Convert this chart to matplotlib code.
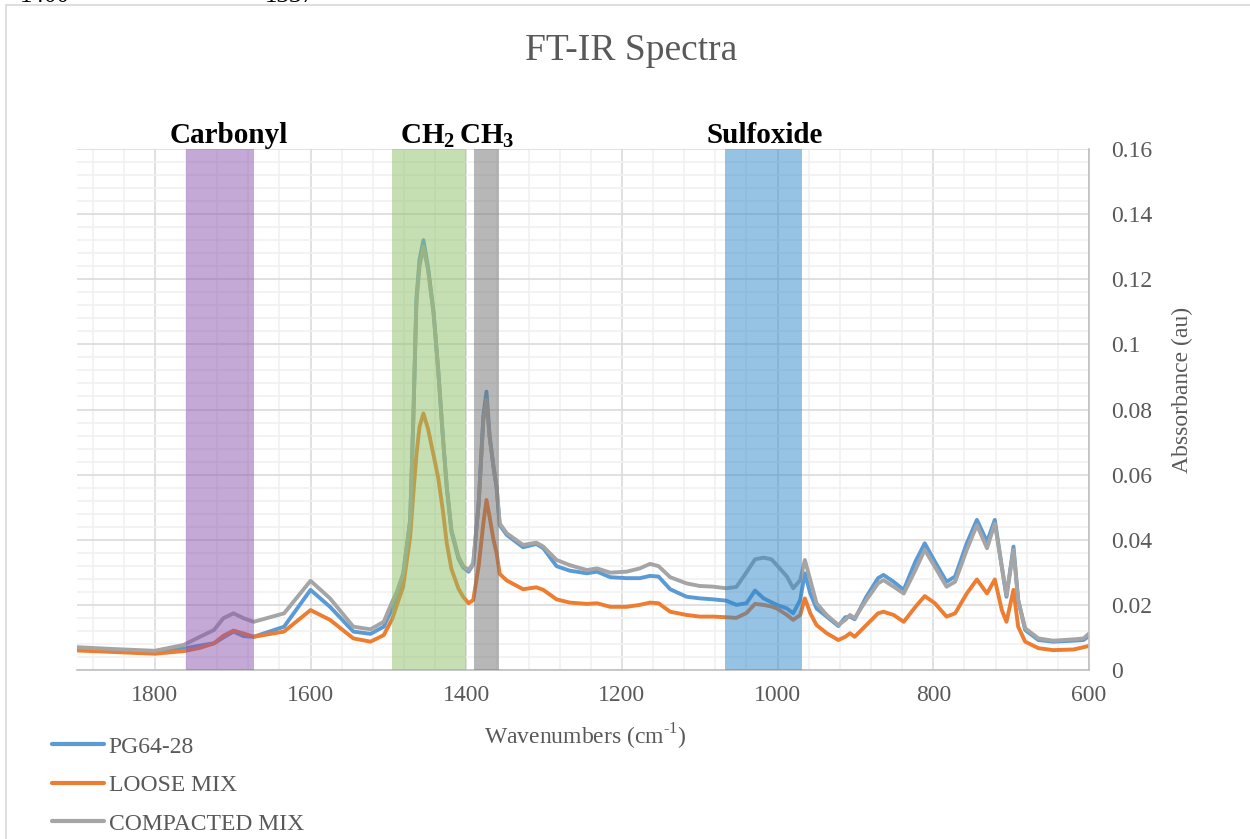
import matplotlib.pyplot as plt
from matplotlib.patches import Rectangle
from matplotlib.ticker import MultipleLocator
import matplotlib.transforms as mtransforms

plt.rcParams['font.family'] = ['Liberation Serif', 'DejaVu Serif']
plt.rcParams['mathtext.fontset'] = 'custom'
plt.rcParams['mathtext.rm'] = 'Liberation Serif'
plt.rcParams['mathtext.bf'] = 'Liberation Serif:bold'

# wavenumbers (cm-1), high to low
wavenumbers = [1900, 1850, 1800, 1763, 1742, 1724, 1712, 1699, 1686, 1673, 1634, 1600, 1575, 1545, 1523, 1506,
               1495, 1489, 1481, 1472, 1468, 1464, 1460, 1455, 1449, 1442, 1436, 1430, 1425, 1419, 1410, 1404,
               1397, 1391, 1384, 1378, 1374, 1370, 1365, 1361, 1357, 1348,
               1327, 1310, 1301, 1284, 1267, 1245, 1232, 1215, 1194, 1177,
               1164, 1153, 1138, 1117, 1100, 1083, 1066, 1053, 1040, 1029,
               1018, 1008, 1001, 988, 980, 971, 965, 958, 950, 937,
               922, 913, 907, 901, 886, 871, 864, 851, 838, 823,
               811, 798, 783, 772, 757, 744, 731, 721, 712, 706,
               697, 691, 682, 665, 646, 620, 607, 600]

pg64_28 = [0.0066, 0.0060, 0.0057, 0.0066, 0.0075, 0.0082, 0.0100, 0.0118, 0.0104, 0.0102, 0.0133, 0.0246, 0.0194, 0.0118, 0.0111, 0.0133,
           0.0189, 0.0225, 0.0290, 0.0461, 0.0768, 0.1140, 0.1260, 0.1320, 0.1235, 0.1100, 0.0921, 0.0716, 0.0560, 0.0425, 0.0342, 0.0315,
           0.0302, 0.0325, 0.0512, 0.0780, 0.0855, 0.0720, 0.0624, 0.0560, 0.0445, 0.0415,
           0.0377, 0.0387, 0.0374, 0.0319, 0.0305, 0.0297, 0.0302, 0.0285, 0.0282, 0.0282,
           0.0289, 0.0287, 0.0248, 0.0225, 0.0220, 0.0217, 0.0213, 0.0200, 0.0205, 0.0244,
           0.0220, 0.0208, 0.0200, 0.0189, 0.0174, 0.0215, 0.0297, 0.0235, 0.0189, 0.0164,
           0.0135, 0.0162, 0.0164, 0.0156, 0.0225, 0.0282, 0.0292, 0.0271, 0.0246, 0.0333,
           0.0389, 0.0333, 0.0271, 0.0287, 0.0389, 0.0461, 0.0394, 0.0461, 0.0317, 0.0225,
           0.0379, 0.0215, 0.0123, 0.0092, 0.0087, 0.0090, 0.0092, 0.0105]

loose_mix = [0.0060, 0.0055, 0.0050, 0.0058, 0.0068, 0.0082, 0.0105, 0.0121, 0.0112, 0.0102, 0.0118, 0.0184, 0.0154, 0.0097, 0.0087, 0.0107,
             0.0157, 0.0200, 0.0256, 0.0409, 0.0540, 0.0660, 0.0747, 0.0788, 0.0740, 0.0660, 0.0590, 0.0490, 0.0389, 0.0310, 0.0250, 0.0225,
             0.0205, 0.0215, 0.0320, 0.0450, 0.0522, 0.0470, 0.0400, 0.0360, 0.0295, 0.0275,
             0.0248, 0.0254, 0.0246, 0.0217, 0.0207, 0.0203, 0.0205, 0.0194, 0.0194, 0.0200,
             0.0207, 0.0205, 0.0179, 0.0169, 0.0164, 0.0164, 0.0162, 0.0160, 0.0175, 0.0203,
             0.0200, 0.0195, 0.0189, 0.0169, 0.0154, 0.0169, 0.0220, 0.0174, 0.0138, 0.0113,
             0.0092, 0.0102, 0.0113, 0.0102, 0.0138, 0.0174, 0.0179, 0.0169, 0.0148, 0.0194,
             0.0227, 0.0205, 0.0164, 0.0174, 0.0235, 0.0278, 0.0235, 0.0278, 0.0184, 0.0148,
             0.0246, 0.0133, 0.0087, 0.0067, 0.0061, 0.0063, 0.0070, 0.0074]

compacted_mix = [0.0070, 0.0064, 0.0059, 0.0077, 0.0102, 0.0123, 0.0159, 0.0174, 0.0159, 0.0148, 0.0174, 0.0274, 0.0220, 0.0133, 0.0125, 0.0148,
                 0.0210, 0.0240, 0.0297, 0.0461, 0.0768, 0.1127, 0.1240, 0.1300, 0.1228, 0.1096, 0.0921, 0.0716, 0.0563, 0.0430, 0.0348, 0.0320,
                 0.0307, 0.0328, 0.0512, 0.0768, 0.0830, 0.0716, 0.0624, 0.0563, 0.0450, 0.0420,
                 0.0384, 0.0391, 0.0379, 0.0338, 0.0322, 0.0307, 0.0312, 0.0299, 0.0302, 0.0312,
                 0.0326, 0.0319, 0.0285, 0.0266, 0.0258, 0.0256, 0.0251, 0.0255, 0.0300, 0.0340,
                 0.0345, 0.0340, 0.0322, 0.0287, 0.0251, 0.0276, 0.0338, 0.0276, 0.0205, 0.0169,
                 0.0138, 0.0154, 0.0169, 0.0159, 0.0215, 0.0266, 0.0276, 0.0256, 0.0235, 0.0307,
                 0.0369, 0.0317, 0.0256, 0.0271, 0.0369, 0.0445, 0.0374, 0.0450, 0.0317, 0.0230,
                 0.0369, 0.0215, 0.0128, 0.0097, 0.0090, 0.0094, 0.0097, 0.0112]

series_names = ['PG64-28', 'LOOSE MIX', 'COMPACTED MIX']
series_colors = ['#5b9bd5', '#ed7d31', '#a5a5a5']

# functional group regions (cm-1) and their labels
band_ranges = [(1760, 1673), (1495, 1400), (1390, 1358), (1068, 969)]
band_colors = ['#8a52ad', '#8dc169', '#717171', '#2f87cb']
group_labels = ['Carbonyl', r'CH$_\mathbf{2}$', r'CH$_\mathbf{3}$', 'Sulfoxide']
group_label_x = [1705, 1450, 1374, 1017]

W, H = 1250, 839
fig = plt.figure(figsize=(12.5, 8.39), dpi=100)
ax = fig.add_axes([77 / W, 1 - 670 / H, (1089 - 77) / W, (670 - 149) / H])

for y, name, color in zip([pg64_28, loose_mix, compacted_mix], series_names, series_colors):
    ax.plot(wavenumbers, y, color=color, lw=2.8, label=name, zorder=2,
            solid_joinstyle='round', solid_capstyle='round')

for (hi, lo), c in zip(band_ranges, band_colors):
    ax.axvspan(lo, hi, color=c, alpha=0.5, lw=0, zorder=3)

ax.set_xlim(1900, 600)
ax.set_ylim(0, 0.16)
ax.xaxis.set_major_locator(MultipleLocator(200))
ax.xaxis.set_minor_locator(MultipleLocator(40))
ax.yaxis.set_major_locator(MultipleLocator(0.02))
ax.yaxis.set_minor_locator(MultipleLocator(0.004))
ax.yaxis.tick_right()
ax.set_yticks([0, 0.02, 0.04, 0.06, 0.08, 0.1, 0.12, 0.14, 0.16])
ax.set_yticklabels(['0', '0.02', '0.04', '0.06', '0.08', '0.1', '0.12', '0.14', '0.16'])

ax.set_axisbelow(True)
ax.grid(which='major', color='#d9d9d9', lw=1.1)
ax.grid(which='minor', color='#f0f0f0', lw=1.1)
ax.tick_params(which='both', length=0, labelsize=17, labelcolor='#595959')
ax.tick_params(axis='x', pad=11)
ax.tick_params(axis='y', pad=16)

for side in ['left', 'top']:
    ax.spines[side].set_visible(False)
for side in ['right', 'bottom']:
    ax.spines[side].set_color('#bfbfbf')
    ax.spines[side].set_linewidth(1.2)

trans = mtransforms.blended_transform_factory(ax.transData, ax.transAxes)
for x, label in zip(group_label_x, group_labels):
    ax.text(x, 1.0115, label, transform=trans, ha='center', va='baseline',
            fontsize=21, fontweight='bold', color='black')

fig.text(631 / W, 1 - 60 / H, 'FT-IR Spectra', ha='center', va='baseline',
         fontsize=27, color='#595959')
fig.text(585 / W, 1 - 745 / H, r'Wavenumbers (cm$^{\text{-1}}$)', ha='center', va='baseline',
         fontsize=17, color='#595959')
fig.text(1182 / W, 1 - 390 / H, 'Abssorbance (au)', ha='center', va='center',
         rotation=90, fontsize=17, color='#595959')

leg = fig.legend(loc='upper left', bbox_to_anchor=(52 / W, 1 - 736 / H), frameon=False,
                 fontsize=17, labelcolor='#595959', handlelength=2.2, handletextpad=0.2,
                 labelspacing=0.72, borderpad=0, borderaxespad=0)
for line in leg.get_lines():
    line.set_linewidth(3.0)

# chart frame
fig.patches.append(Rectangle((6 / W, -0.1), 1.2, 1.1 - 5 / H, transform=fig.transFigure,
                             fill=False, edgecolor='#d9d9d9', lw=1.2))

fig.text(20 / W, 1 - 2 / H, '1400', ha='left', va='baseline', fontsize=18, color='black')
fig.text(265 / W, 1 - 2 / H, '1337', ha='left', va='baseline', fontsize=18, color='black')

fig.savefig('out.png', dpi=100)
